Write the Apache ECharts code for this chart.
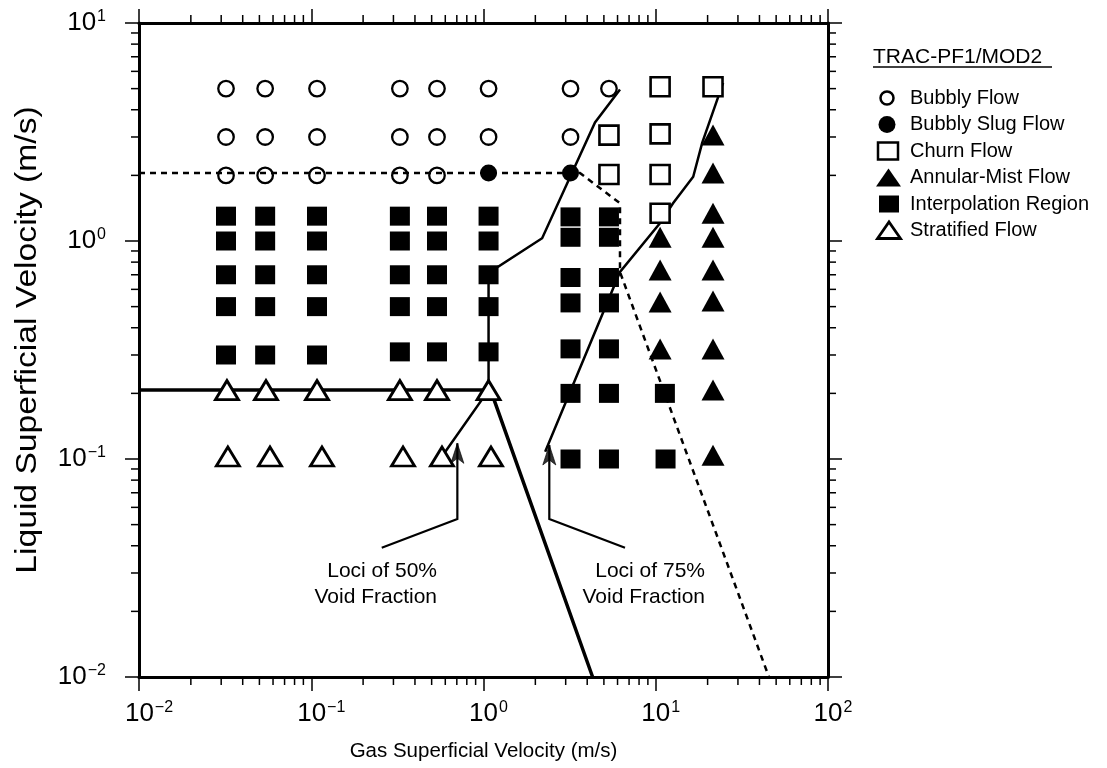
<!DOCTYPE html>
<html>
<head>
<meta charset="utf-8">
<script src="https://cdn.jsdelivr.net/npm/echarts@6/dist/echarts.min.js"></script>
<style>
  html, body { margin: 0; padding: 0; background: #fff; }
  #chart { width: 1107px; height: 768px; }
</style>
</head>
<body>
<div id="chart"></div>
<script>
const FONT = 'Liberation Sans, Arial, Helvetica, sans-serif';
const X_MIN = 0.01, X_MAX = 100, Y_MIN = 0.01, Y_MAX = 10;

// Flow-regime observations: [gas superficial velocity, liquid superficial velocity] (m/s)
const bubblyFlow = [
  [0.032, 5], [0.054, 5], [0.108, 5], [0.327, 5], [0.537, 5], [1.07, 5], [3.2, 5], [5.35, 5],
  [0.032, 3], [0.054, 3], [0.108, 3], [0.327, 3], [0.537, 3], [1.07, 3], [3.2, 3],
  [0.032, 2.0], [0.054, 2.0], [0.108, 2.0], [0.327, 2.0], [0.537, 2.0]
];
const bubblySlugFlow = [[1.07, 2.05], [3.2, 2.05]];
const churnFlow = [
  [5.35, 3.06], [5.35, 2.02],
  [10.6, 5.1], [10.6, 3.1], [10.6, 2.02], [10.6, 1.34],
  [21.5, 5.1]
];
const annularMistFlow = [
  [10.6, 1.04], [10.6, 0.736], [10.6, 0.525], [10.6, 0.32],
  [21.5, 3.06], [21.5, 2.05], [21.5, 1.34], [21.5, 1.04], [21.5, 0.736],
  [21.5, 0.53], [21.5, 0.32], [21.5, 0.207], [21.5, 0.104]
];
const interpolationRegion = [
  [0.032, 1.3], [0.032, 1.0], [0.032, 0.70], [0.032, 0.50], [0.032, 0.30],
  [0.054, 1.3], [0.054, 1.0], [0.054, 0.70], [0.054, 0.50], [0.054, 0.30],
  [0.108, 1.3], [0.108, 1.0], [0.108, 0.70], [0.108, 0.50], [0.108, 0.30],
  [0.327, 1.3], [0.327, 1.0], [0.327, 0.70], [0.327, 0.50], [0.327, 0.31],
  [0.537, 1.3], [0.537, 1.0], [0.537, 0.70], [0.537, 0.50], [0.537, 0.31],
  [1.07, 1.3], [1.07, 1.0], [1.07, 0.70], [1.07, 0.50], [1.07, 0.31],
  [3.2, 1.29], [3.2, 1.04], [3.2, 0.68], [3.2, 0.52], [3.2, 0.32], [3.2, 0.2], [3.2, 0.1],
  [5.35, 1.29], [5.35, 1.04], [5.35, 0.68], [5.35, 0.52], [5.35, 0.32], [5.35, 0.2], [5.35, 0.1],
  [11.3, 0.2], [11.4, 0.1]
];
const stratifiedFlow = [
  [0.0324, 0.207], [0.0546, 0.207], [0.108, 0.207], [0.327, 0.207], [0.537, 0.207], [1.07, 0.207],
  [0.0328, 0.1027], [0.0576, 0.1027], [0.1154, 0.1027], [0.341, 0.1027], [0.574, 0.1027], [1.105, 0.1027]
];

// Regime boundaries
const stratifiedBoundary = [[0.01, 0.207], [1.1, 0.207], [4.3, 0.01]];
const voidFraction50 = [[0.6, 0.108], [1.07, 0.207], [1.07, 0.713], [2.19, 1.03], [4.44, 3.5], [6.2, 4.96]];
const voidFraction75 = [[2.28, 0.108], [6.2, 0.721], [10.6, 1.21], [12.6, 1.49], [16.5, 1.97], [18.6, 2.82], [24.6, 5.31]];
const bubblyBoundary = [[0.01, 2.05], [3.63, 2.05], [6.2, 1.49], [6.2, 0.721], [45.4, 0.01]];

// Callout leaders (polyline ending at the arrow tip)
const callout50 = [[0.2566, 0.0392], [0.705, 0.0531], [0.705, 0.118]];
const callout75 = [[6.63, 0.0392], [2.41, 0.0531], [2.41, 0.116]];
const calloutTips = [[0.705, 0.118], [2.41, 0.116]];

// Minor tick values (2..9 within each decade)
const minorX = [], minorY = [];
for (let e = -2; e < 2; e++) for (let m = 2; m <= 9; m++) minorX.push(m * Math.pow(10, e));
for (let e = -2; e < 1; e++) for (let m = 2; m <= 9; m++) minorY.push(m * Math.pow(10, e));

const legendItems = [
  { name: 'Bubbly Flow', kind: 'openCircle' },
  { name: 'Bubbly Slug Flow', kind: 'filledCircle' },
  { name: 'Churn Flow', kind: 'openSquare' },
  { name: 'Annular-Mist Flow', kind: 'filledTriangle' },
  { name: 'Interpolation Region', kind: 'filledSquare' },
  { name: 'Stratified Flow', kind: 'openTriangle' }
];

const MAJOR = 14, MINOR = 8;
const SUP_SIZE = 16;

function exponentText(v) {
  const e = Math.round(Math.log10(v));
  return e < 0 ? '\u2212' + (-e) : String(e);
}

// Width of an exponent string, used to pad x labels so "10" sits centred on its tick
const measureCtx = document.createElement('canvas').getContext('2d');
measureCtx.font = SUP_SIZE + 'px ' + FONT;
const supWidthPos = Math.ceil(measureCtx.measureText('0').width) + 1;
const supWidthNeg = Math.ceil(measureCtx.measureText('\u22122').width) + 1;

function powerLabelX(v) {
  const ex = exponentText(v);
  const pad = ex.charAt(0) === '\u2212' ? 'pn' : 'pp';
  return '{' + pad + '|}{b|10}{s|' + ex + '}';
}
function powerLabelY(v) { return '{b|10}{s|' + exponentText(v) + '}'; }
const SUP = { fontFamily: FONT, fontSize: SUP_SIZE, lineHeight: SUP_SIZE, verticalAlign: 'top', padding: [0, 0, 0, 1], color: '#000' };
const BASE = { fontFamily: FONT, fontSize: 26, lineHeight: 28, color: '#000' };
const richX = {
  pp: { width: supWidthPos, fontSize: SUP_SIZE },
  pn: { width: supWidthNeg, fontSize: SUP_SIZE },
  b: BASE,
  s: SUP
};
const richY = { b: BASE, s: SUP };

function logAxis(pos, min, max, formatter, rich) {
  return {
    type: 'log', logBase: 10, min: min, max: max, position: pos,
    axisLine: { show: true, onZero: false, lineStyle: { color: '#000', width: 3 } },
    axisTick: { show: true, inside: false, length: MAJOR, lineStyle: { color: '#000', width: 1.5 } },
    splitLine: { show: false },
    minorTick: { show: false },
    axisLabel: formatter ? { show: true, formatter: formatter, rich: rich } : { show: false }
  };
}

const xBottom = logAxis('bottom', X_MIN, X_MAX, powerLabelX, richX);
xBottom.axisLabel.margin = 23;
xBottom.name = 'Gas Superficial Velocity (m/s)';
xBottom.nameLocation = 'middle';
xBottom.nameGap = 64;
xBottom.nameTextStyle = { fontFamily: FONT, fontSize: 20.5, color: '#000' };
const xTop = logAxis('top', X_MIN, X_MAX, null);

const yLeft = logAxis('left', Y_MIN, Y_MAX, powerLabelY, richY);
yLeft.axisLabel.margin = 33;
yLeft.axisLabel.align = 'right';
const yRight = logAxis('right', Y_MIN, Y_MAX, null);

function lineSeries(data, width, dashed) {
  return {
    type: 'line', data: data, showSymbol: false, symbol: 'none', silent: true, z: 2,
    lineStyle: { color: '#000', width: width, type: dashed ? [6, 5] : 'solid', cap: 'butt', join: 'miter' }
  };
}

function scatterSeries(data, symbol, size, fill, border, bw) {
  return {
    type: 'scatter', data: data, symbol: symbol, symbolSize: size, silent: true, z: 3,
    itemStyle: { color: fill, borderColor: border, borderWidth: bw, opacity: 1 },
    emphasis: { disabled: true }
  };
}

const tickStyle = { stroke: '#000', lineWidth: 1.5 };
const minorXSeries = {
  type: 'custom', silent: true, clip: false, z: 1,
  data: minorX.map(v => [v, 1]),
  renderItem: function (params, api) {
    const v = api.value(0);
    const b = api.coord([v, Y_MIN]);
    const t = api.coord([v, Y_MAX]);
    return { type: 'group', children: [
      { type: 'line', shape: { x1: b[0], y1: b[1], x2: b[0], y2: b[1] + MINOR }, style: tickStyle },
      { type: 'line', shape: { x1: t[0], y1: t[1], x2: t[0], y2: t[1] - MINOR }, style: tickStyle }
    ] };
  }
};
const minorYSeries = {
  type: 'custom', silent: true, clip: false, z: 1,
  data: minorY.map(v => [1, v]),
  renderItem: function (params, api) {
    const v = api.value(1);
    const l = api.coord([X_MIN, v]);
    const r = api.coord([X_MAX, v]);
    return { type: 'group', children: [
      { type: 'line', shape: { x1: l[0], y1: l[1], x2: l[0] - MINOR, y2: l[1] }, style: tickStyle },
      { type: 'line', shape: { x1: r[0], y1: r[1], x2: r[0] + MINOR, y2: r[1] }, style: tickStyle }
    ] };
  }
};

// Legend drawn as graphic elements
const LEG_X = 888, LEG_TEXT_X = 910, LEG_Y0 = 98, LEG_DY = 26.5;
const legendGraphics = [];
legendItems.forEach(function (it, i) {
  const cy = LEG_Y0 + i * LEG_DY;
  let shape;
  switch (it.kind) {
    case 'openCircle':
      shape = { type: 'circle', shape: { cx: LEG_X - 1, cy: cy, r: 6.5 }, style: { fill: 'none', stroke: '#000', lineWidth: 2.5 } }; break;
    case 'filledCircle':
      shape = { type: 'circle', shape: { cx: LEG_X - 1, cy: cy, r: 8.5 }, style: { fill: '#000' } }; break;
    case 'openSquare':
      shape = { type: 'rect', shape: { x: LEG_X - 10, y: cy - 8.5, width: 20, height: 17 }, style: { fill: '#fff', stroke: '#000', lineWidth: 2.5 } }; break;
    case 'filledTriangle':
      shape = { type: 'polygon', shape: { points: [[LEG_X - 12, cy + 9], [LEG_X + 13, cy + 9], [LEG_X + 0.5, cy - 9]] }, style: { fill: '#000' } }; break;
    case 'filledSquare':
      shape = { type: 'rect', shape: { x: LEG_X - 9, y: cy - 8.5, width: 20, height: 17 }, style: { fill: '#000' } }; break;
    case 'openTriangle':
      shape = { type: 'polygon', shape: { points: [[LEG_X - 10.5, cy + 8], [LEG_X + 12.5, cy + 8], [LEG_X + 1, cy - 8.5]] }, style: { fill: '#fff', stroke: '#000', lineWidth: 2.8 } }; break;
  }
  legendGraphics.push(shape);
  legendGraphics.push({
    type: 'text', x: LEG_TEXT_X, y: cy,
    style: { text: it.name, fill: '#000', font: '20px ' + FONT, textVerticalAlign: 'middle', textAlign: 'left' }
  });
});

const option = {
  animation: false,
  backgroundColor: '#fff',
  textStyle: { fontFamily: FONT },
  grid: { left: 139, right: 279, top: 23, bottom: 91, containLabel: false },
  xAxis: [xBottom, xTop],
  yAxis: [yLeft, yRight],
  series: [
    minorXSeries,
    minorYSeries,
    lineSeries(bubblyBoundary, 2.5, true),
    lineSeries(stratifiedBoundary, 3.5, false),
    lineSeries(voidFraction50, 2.5, false),
    lineSeries(voidFraction75, 2.5, false),
    lineSeries(callout50, 2.2, false),
    lineSeries(callout75, 2.2, false),
    scatterSeries(bubblyFlow, 'circle', 15.5, 'rgba(0,0,0,0)', '#000', 2.3),
    scatterSeries(bubblySlugFlow, 'circle', 17, '#000', '#000', 0),
    scatterSeries(churnFlow, 'rect', 19, '#fff', '#000', 2.6),
    scatterSeries(annularMistFlow, 'triangle', [23, 21], '#000', '#000', 0),
    scatterSeries(interpolationRegion, 'rect', [20, 19], '#000', '#000', 0),
    scatterSeries(stratifiedFlow, 'triangle', [23, 19], '#fff', '#000', 2.8),
    {
      type: 'scatter', data: calloutTips, silent: true, z: 4,
      symbol: 'path://M6,0 L12,20 L6,15 L0,20 Z', symbolKeepAspect: false,
      symbolSize: [13, 20], symbolOffset: [0, 10],
      itemStyle: { color: '#000', borderColor: '#000', borderWidth: 0.8 }
    }
  ],
  graphic: [
    {
      type: 'text', x: 28, y: 340, rotation: Math.PI / 2, scaleX: 1.16,
      style: { text: 'Liquid Superficial Velocity (m/s)', fill: '#000', font: '29px ' + FONT, textAlign: 'center', textVerticalAlign: 'middle' }
    },
    { type: 'text', x: 873, y: 57, style: { text: 'TRAC-PF1/MOD2', fill: '#000', font: '21px ' + FONT, textVerticalAlign: 'middle' } },
    { type: 'line', shape: { x1: 873, y1: 67, x2: 1052, y2: 67 }, style: { stroke: '#000', lineWidth: 1.5 } },
    { type: 'text', x: 437, y: 558, style: { text: 'Loci of 50%\nVoid Fraction', fill: '#000', font: '21px ' + FONT, textAlign: 'right', textVerticalAlign: 'top', lineHeight: 26 } },
    { type: 'text', x: 705, y: 558, style: { text: 'Loci of 75%\nVoid Fraction', fill: '#000', font: '21px ' + FONT, textAlign: 'right', textVerticalAlign: 'top', lineHeight: 26 } }
  ].concat(legendGraphics)
};

const chart = echarts.init(document.getElementById('chart'), null, { renderer: 'canvas' });
chart.setOption(option);
</script>
</body>
</html>
